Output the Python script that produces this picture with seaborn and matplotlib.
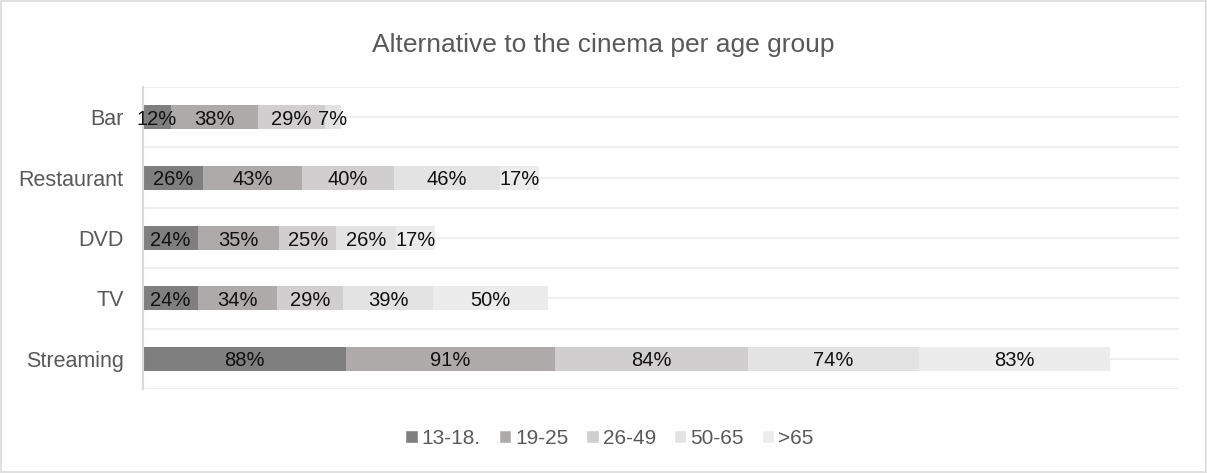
import numpy as np
import matplotlib
matplotlib.use("Agg")
import matplotlib.pyplot as plt
from matplotlib.patches import Patch
import seaborn as sns

# Data
categories = ["Bar", "Restaurant", "DVD", "TV", "Streaming"]
age_groups = ["13-18.", "19-25", "26-49", "50-65", ">65"]
v_13_18 = [12, 26, 24, 24, 88]
v_19_25 = [38, 43, 35, 34, 91]
v_26_49 = [29, 40, 25, 29, 84]
v_50_65 = [7, 46, 26, 39, 74]
v_65_plus = [0, 17, 17, 50, 83]
series = [v_13_18, v_19_25, v_26_49, v_50_65, v_65_plus]
colors = ["#7f7f7f", "#aeaaaa", "#d0cece", "#e3e3e3", "#ececec"]

sns.set_style("white")
plt.rcParams["font.family"] = ["Liberation Sans", "DejaVu Sans"]

fig = plt.figure(figsize=(12.07, 4.73), dpi=100)
fig.patch.set_edgecolor("#e0e0e0")
fig.patch.set_linewidth(1.5)
ax = fig.add_axes([0.1185, 0.1776, 0.8583, 0.6384])

# Stacked bars: draw cumulative totals from the last series to the first
cum = np.cumsum(np.array(series), axis=0)
for i in range(len(series) - 1, -1, -1):
    sns.barplot(x=cum[i], y=categories, order=categories, orient="h",
                color=colors[i], width=0.4, saturation=1, linewidth=0,
                edgecolor="none", ax=ax, zorder=2)

# Value labels centred in each segment
for i, vals in enumerate(series):
    starts = cum[i] - np.array(vals)
    for j, v in enumerate(vals):
        if v == 0:
            continue
        ax.text(starts[j] + v / 2, j, f"{v}%", ha="center",
                va="center_baseline", fontsize=14.5, color="#111111", zorder=3)

ax.set_xlim(0, 450)
ax.set_ylim(4.5, -0.5)
ax.set_xticks([])
ax.set_xlabel("")
ax.set_ylabel("")

# Light gridlines at every half category (centres and boundaries)
ax.set_yticks(np.arange(-0.5, 5, 1.0), minor=True)
ax.grid(True, which="both", axis="y", color="#efefef", linewidth=1.5, zorder=0)
ax.set_axisbelow(True)
ax.tick_params(axis="y", which="both", length=0, pad=14, labelsize=15.5,
               labelcolor="#595959")

for side in ["top", "right", "bottom"]:
    ax.spines[side].set_visible(False)
ax.spines["left"].set_color("#d9d9d9")
ax.spines["left"].set_linewidth(1.5)

fig.text(0.5, 1 - 45 / 473, "Alternative to the cinema per age group",
         ha="center", va="center", fontsize=19, color="#595959")

handles = [Patch(facecolor=c, label=g) for c, g in zip(colors, age_groups)]
fig.legend(handles=handles, loc="center", bbox_to_anchor=(0.505, 1 - 438 / 473),
           ncol=5, frameon=False, fontsize=15, labelcolor="#595959",
           handlelength=0.6, handleheight=0.6, handletextpad=0.2,
           columnspacing=0.85)

fig.savefig("out.png", dpi=100)
